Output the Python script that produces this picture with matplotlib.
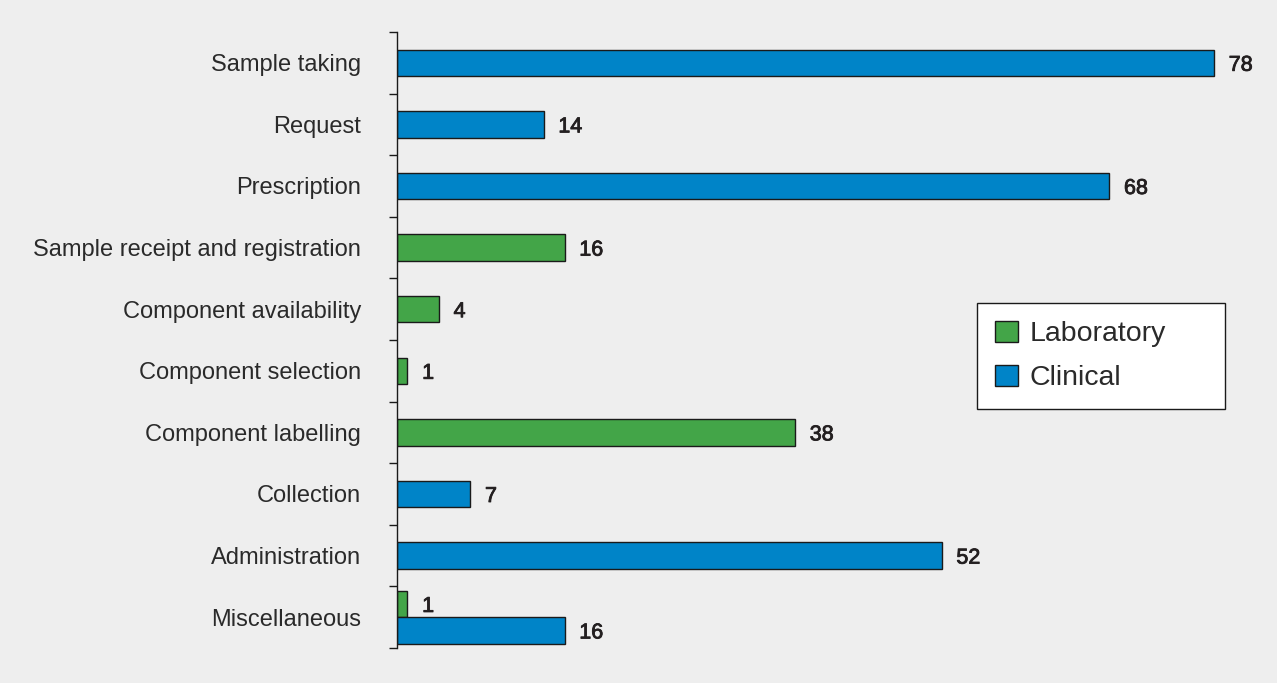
import matplotlib
matplotlib.use("Agg")
import matplotlib.pyplot as plt
import matplotlib.patheffects as pe
import numpy as np
from matplotlib.patches import Patch

categories = ["Sample taking", "Request", "Prescription", "Sample receipt and registration",
              "Component availability", "Component selection", "Component labelling",
              "Collection", "Administration", "Miscellaneous"]
laboratory = [None, None, None, 16, 4, 1, 38, None, None, 1]
clinical = [78, 14, 68, None, None, None, None, 7, 52, 16]

GREEN = "#43a548"
BLUE = "#0084c8"
BG = "#eeeeee"
TXT = "#231f20"

plt.rcParams['font.family'] = ['Liberation Sans', 'DejaVu Sans']

fig = plt.figure(figsize=(12.77, 6.83), dpi=100, facecolor=BG)
ax = fig.add_axes([397/1277, 35/683, (1235-397)/1277, (648-32)/683])
ax.set_facecolor(BG)

effects = [pe.withStroke(linewidth=0.6, foreground=TXT)]
h = 0.43
for i, (lab, cli) in enumerate(zip(laboratory, clinical)):
    both = lab is not None and cli is not None
    if lab is not None:
        y = i - h/2 if both else i
        ax.barh(y, lab, height=h, color=GREEN, edgecolor="#1a1a1a", linewidth=1)
        ax.text(lab + 1.4, y, str(lab), va="center_baseline", ha="left", fontsize=15.5,
                color=TXT, path_effects=effects)
    if cli is not None:
        y = i + h/2 if both else i
        ax.barh(y, cli, height=h, color=BLUE, edgecolor="#1a1a1a", linewidth=1)
        ax.text(cli + 1.4, y, str(cli), va="center_baseline", ha="left", fontsize=15.5,
                color=TXT, path_effects=effects)

ax.set_xlim(0, 80)
ax.set_ylim(len(categories) - 0.5, -0.5)
ax.set_yticks(np.arange(len(categories)))
ax.set_yticklabels(categories, fontsize=17, color="#2a2a2a")
ax.tick_params(axis="y", which="major", length=0, pad=26)
ax.set_yticks(np.arange(len(categories) + 1) - 0.5, minor=True)
ax.tick_params(axis="y", which="minor", length=6, width=1, color="#1a1a1a", direction="out")
ax.set_xticks([])
for s in ["top", "right", "bottom"]:
    ax.spines[s].set_visible(False)
ax.spines["left"].set_color("#1a1a1a")
ax.spines["left"].set_linewidth(1)

handles = [Patch(facecolor=GREEN, edgecolor="#1a1a1a", linewidth=1),
           Patch(facecolor=BLUE, edgecolor="#1a1a1a", linewidth=1)]
leg = fig.legend(handles, ["Laboratory", "Clinical"], loc="upper left",
                 bbox_to_anchor=(977/1277, 1 - 303/683, 248/1277, 0.0),
                 bbox_transform=fig.transFigure, mode="expand", borderaxespad=0,
                 fontsize=20.5, frameon=True, fancybox=False, framealpha=1,
                 handlelength=0.82, handleheight=0.8, handletextpad=0.4,
                 labelspacing=0.6, borderpad=0.62, labelcolor="#2a2a2a")
leg.get_frame().set_edgecolor("#1a1a1a")
leg.get_frame().set_linewidth(1)
leg.get_frame().set_facecolor("white")

fig.savefig("out.png", dpi=100, facecolor=BG)
